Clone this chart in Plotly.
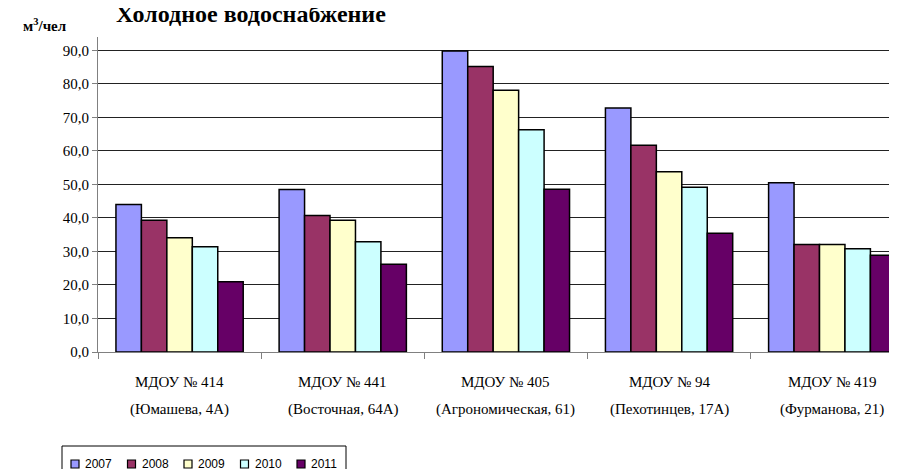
import plotly.graph_objects as go

categories = ["МДОУ № 414", "МДОУ № 441", "МДОУ № 405", "МДОУ № 94", "МДОУ № 419"]
addresses = ["(Юмашева, 4А)", "(Восточная, 64А)", "(Агрономическая, 61)", "(Пехотинцев, 17А)", "(Фурманова, 21)"]
years = ["2007", "2008", "2009", "2010", "2011"]
v2007 = [44.0, 48.5, 89.8, 72.8, 50.5]
v2008 = [39.3, 40.7, 85.2, 61.7, 32.1]
v2009 = [34.1, 39.3, 78.1, 53.8, 32.1]
v2010 = [31.4, 32.9, 66.3, 49.2, 30.8]
v2011 = [21.0, 26.2, 48.6, 35.4, 28.9]
series = [v2007, v2008, v2009, v2010, v2011]
colors = ["#9999FF", "#993366", "#FFFFCC", "#CCFFFF", "#660066"]
ytickvals = [0, 10, 20, 30, 40, 50, 60, 70, 80, 90]
yticktext = ["0,0", "10,0", "20,0", "30,0", "40,0", "50,0", "60,0", "70,0", "80,0", "90,0"]

SERIF = "Liberation Serif"
SANS = "Liberation Sans"

W, H = 897, 469
ML, MR, MT, MB = 90, 0, 29, 125
PW, PH = W - ML - MR, H - MT - MB


def px_x(px):
    return (px - ML) / PW


def px_y(py):
    return (H - MB - py) / PH


xs = list(range(len(categories)))
fig = go.Figure()
for name, vals, col in zip(years, series, colors):
    fig.add_trace(go.Bar(x=xs, y=vals, name=name, showlegend=False,
                         marker=dict(color=col, line=dict(color="black", width=1.5))))

annotations = []
for i, (c, a) in enumerate(zip(categories, addresses)):
    annotations.append(dict(x=i, y=0, xref="x", yref="paper", text=c, showarrow=False,
                            yanchor="middle", yshift=-30, font=dict(family=SERIF, size=15, color="black")))
    annotations.append(dict(x=i, y=0, xref="x", yref="paper", text=a, showarrow=False,
                            yanchor="middle", yshift=-57, font=dict(family=SERIF, size=15, color="black")))
annotations.append(dict(x=px_x(106), y=1, xref="paper", yref="paper", text="<b>Холодное водоснабжение</b>",
                        showarrow=False, xanchor="left", yanchor="bottom", yshift=8,
                        font=dict(family=SERIF, size=24, color="black")))
annotations.append(dict(x=px_x(13), y=1, xref="paper", yref="paper", text="<b>м<sup>3</sup>/чел</b>",
                        showarrow=False, xanchor="left", yanchor="bottom", yshift=1,
                        font=dict(family=SERIF, size=15, color="black")))

# legend (drawn as a boxed row of swatches + labels)
shapes = [dict(type="rect", xref="paper", yref="paper", x0=px_x(54), x1=px_x(338),
               y0=px_y(438), y1=px_y(485), line=dict(color="black", width=1), fillcolor="white", layer="above")]
step = 56.5
for i, (name, col) in enumerate(zip(years, colors)):
    sx = 63 + step * i
    shapes.append(dict(type="rect", xref="paper", yref="paper", x0=px_x(sx), x1=px_x(sx + 8),
                       y0=px_y(452), y1=px_y(460), line=dict(color="black", width=1.2), fillcolor=col,
                       layer="above"))
    annotations.append(dict(x=px_x(sx + 12), y=px_y(456), xref="paper", yref="paper", text=name,
                            showarrow=False, xanchor="left", yanchor="middle",
                            font=dict(family=SANS, size=12, color="black")))

fig.update_layout(
    width=W, height=H,
    margin=dict(l=ML, r=MR, t=MT, b=MB),
    paper_bgcolor="white", plot_bgcolor="white",
    barmode="group", bargap=0.22, bargroupgap=0,
    showlegend=False,
    annotations=annotations,
    shapes=shapes,
    xaxis=dict(range=[-0.5, 4.446], tickvals=[-0.5, 0.5, 1.5, 2.5, 3.5, 4.5], showticklabels=False,
               ticks="outside", ticklen=6, tickcolor="#808080", showgrid=False, zeroline=False,
               showline=True, linecolor="#808080", linewidth=1),
    yaxis=dict(range=[0, 94], tickvals=ytickvals, ticktext=yticktext, ticks="outside", ticklen=5,
               tickcolor="#808080", showgrid=True, gridcolor="#222222", gridwidth=1, zeroline=False,
               showline=True, linecolor="#808080", linewidth=1,
               tickfont=dict(family=SERIF, size=15, color="black")),
)

fig.write_html("out.html")
